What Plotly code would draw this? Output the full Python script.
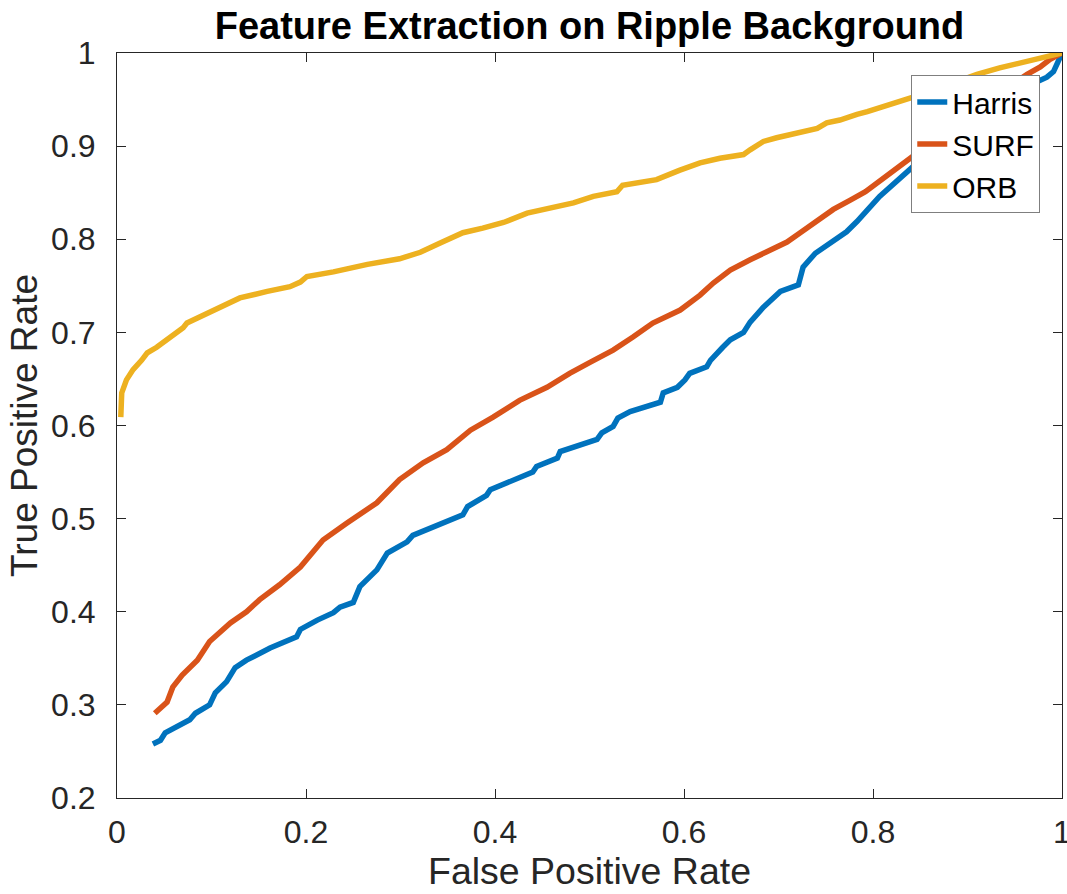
import plotly.graph_objects as go

# ---- data ----
harris_x = [0.038,0.046,0.051,0.063,0.077,0.083,0.098,0.104,0.116,0.125,0.137,0.162,0.190,0.194,0.208,0.212,0.229,0.236,0.250,0.257,0.275,0.286,0.307,0.313,0.366,0.371,0.391,0.395,0.440,0.444,0.466,0.469,0.508,0.513,0.525,0.530,0.543,0.575,0.578,0.593,0.601,0.606,0.624,0.628,0.641,0.649,0.663,0.670,0.684,0.702,0.721,0.726,0.739,0.758,0.772,0.783,0.795,0.807,0.850,0.900,0.950,0.984,0.991,0.995,1.0]
harris_y = [0.258,0.262,0.270,0.276,0.284,0.291,0.300,0.313,0.325,0.340,0.348,0.361,0.373,0.381,0.390,0.391,0.399,0.405,0.410,0.427,0.445,0.463,0.475,0.482,0.504,0.513,0.525,0.531,0.550,0.556,0.565,0.572,0.585,0.592,0.599,0.608,0.615,0.625,0.635,0.641,0.649,0.656,0.663,0.670,0.684,0.692,0.700,0.711,0.727,0.744,0.751,0.770,0.785,0.799,0.808,0.819,0.832,0.846,0.885,0.925,0.958,0.974,0.980,0.989,1.0]

surf_x = [0.040,0.053,0.059,0.069,0.085,0.098,0.120,0.137,0.151,0.172,0.194,0.218,0.243,0.275,0.299,0.324,0.349,0.374,0.398,0.426,0.455,0.479,0.501,0.525,0.546,0.567,0.596,0.617,0.631,0.649,0.670,0.691,0.709,0.723,0.741,0.758,0.776,0.792,0.850,0.900,0.963,0.977,0.987,1.0]
surf_y = [0.291,0.303,0.319,0.332,0.348,0.368,0.388,0.400,0.413,0.429,0.448,0.477,0.495,0.517,0.542,0.560,0.574,0.595,0.609,0.627,0.641,0.656,0.668,0.681,0.695,0.710,0.724,0.740,0.753,0.767,0.778,0.789,0.797,0.807,0.819,0.832,0.842,0.851,0.895,0.935,0.977,0.985,0.993,1.0]

orb_x = [0.004,0.005,0.010,0.017,0.026,0.032,0.042,0.053,0.058,0.070,0.074,0.088,0.109,0.130,0.159,0.183,0.194,0.201,0.229,0.265,0.299,0.321,0.342,0.366,0.387,0.409,0.434,0.462,0.483,0.504,0.529,0.535,0.571,0.595,0.617,0.638,0.663,0.670,0.684,0.698,0.720,0.741,0.751,0.765,0.783,0.794,0.850,0.910,0.934,0.956,0.977,1.0]
orb_y = [0.609,0.635,0.649,0.660,0.670,0.678,0.684,0.692,0.697,0.705,0.710,0.717,0.728,0.737,0.744,0.749,0.754,0.760,0.765,0.773,0.779,0.786,0.796,0.807,0.812,0.818,0.828,0.834,0.839,0.846,0.851,0.858,0.864,0.874,0.882,0.887,0.891,0.896,0.905,0.909,0.914,0.919,0.925,0.928,0.934,0.937,0.955,0.977,0.984,0.989,0.995,1.0]

series_names = ["Harris", "SURF", "ORB"]
series_colors = ["#0072BD", "#D95319", "#EDB120"]

x_tickvals = [0, 0.2, 0.4, 0.6, 0.8, 1]
x_ticktext = ["0", "0.2", "0.4", "0.6", "0.8", "1"]
y_tickvals = [0.2, 0.3, 0.4, 0.5, 0.6, 0.7, 0.8, 0.9, 1]
y_ticktext = ["0.2", "0.3", "0.4", "0.5", "0.6", "0.7", "0.8", "0.9", "1"]

FONT = "Liberation Sans, Arial, Helvetica, sans-serif"
AX = "#262626"

fig = go.Figure()
for xs, ys, name, col in zip([harris_x, surf_x, orb_x], [harris_y, surf_y, orb_y],
                             series_names, series_colors):
    fig.add_trace(go.Scatter(x=xs, y=ys, mode="lines", name=name,
                             line=dict(color=col, width=5.5)))

axis_common = dict(showline=True, linecolor=AX, linewidth=1, mirror="ticks",
                   ticks="inside", ticklen=9, tickcolor=AX, tickwidth=1,
                   showgrid=False, zeroline=False, ticklabeloverflow="allow",
                   automargin=False,
                   tickfont=dict(family=FONT, size=32, color=AX))

fig.update_xaxes(range=[0, 1], tickvals=x_tickvals, ticktext=x_ticktext,
                 title=dict(text="False Positive Rate", font=dict(family=FONT, size=37.5, color=AX), standoff=6),
                 ticklabelstandoff=6, **axis_common)
fig.update_yaxes(range=[0.2, 1], tickvals=y_tickvals, ticktext=y_ticktext,
                 title=dict(text="True Positive Rate", font=dict(family=FONT, size=37, color=AX), standoff=2),
                 ticklabelstandoff=14, **axis_common)

fig.update_layout(
    width=1067, height=894,
    margin=dict(l=117, r=5, t=53, b=96, autoexpand=False),
    paper_bgcolor="white", plot_bgcolor="white",
    title=dict(text="<b>Feature Extraction on Ripple Background</b>",
               font=dict(family=FONT, size=38, color="black"),
               x=0.5, xref="paper", xanchor="center",
               y=1 - 26 / 894, yref="container", yanchor="middle"),
    legend=dict(x=0.977, y=0.9705, xanchor="right", yanchor="top",
                bgcolor="white", bordercolor="#7f7f7f", borderwidth=1,
                font=dict(family=FONT, size=30, color="black"),
                tracegroupgap=0),
    showlegend=True,
)

fig.write_html("out.html")
